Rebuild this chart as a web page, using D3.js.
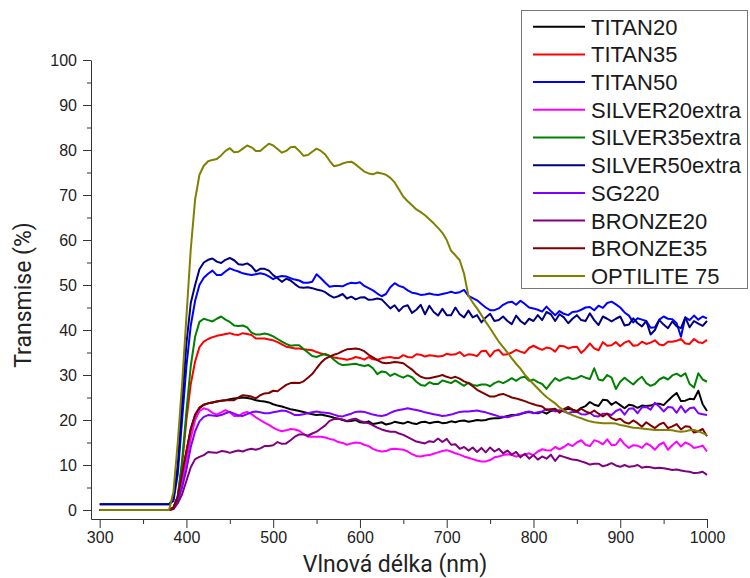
<!DOCTYPE html>
<html>
<head>
<meta charset="utf-8">
<script src="https://d3js.org/d3.v7.min.js"></script>
<style>
  body { margin: 0; background: #fff; }
</style>
</head>
<body>
<div id="chart"></div>
<script>
// wavelength grid (nm): flat start, then every 5 nm
var wavelengths = [300].concat(d3.range(380, 1001, 5));

// transmission (%), one value per wavelength
var titan20 = [0,
  0, 0.5, 3, 8, 13, 18, 21, 22.6, 23.4, 23.7,
  23.9, 24.1, 24.3, 24.4, 24.6, 24.8, 24.9, 25, 24.9, 24.7,
  24.4, 24.2, 24.1, 23.9, 23.5, 23.2, 23, 22.7, 22.4, 22.2,
  22, 21.8, 21.5, 21.3, 21.1, 21.2, 21, 20.8, 20.5, 20.3,
  20, 19.7, 19.8, 20, 19.5, 19.4, 19.7, 19.1, 19.3, 19.5,
  19, 19.2, 19.6, 19.4, 19.2, 19.6, 19.3, 19.1, 19.5, 19.6,
  19.3, 19.5, 19.6, 19.3, 19.4, 19.7, 19.5, 19.8, 19.9, 19.6,
  19.8, 20, 19.9, 20, 20.3, 20.4, 20.4, 20.6, 20.9, 21.1,
  21.1, 21.3, 21.6, 21.8, 21.6, 21.5, 21.8, 21.4, 22, 22.2,
  21.9, 22.2, 22.5, 22.3, 22, 22.7, 23.1, 24, 23.4, 23.1,
  24.5, 24.4, 23.4, 24, 23.3, 22.6, 23.4, 23.2, 22.7, 23.2,
  23.1, 23.2, 23.6, 23.6, 23.3, 24.3, 25.2, 26, 24.2, 24.3,
  24.7, 24.6, 26.5, 23.5, 22];

var titan35 = [0,
  0, 0.5, 3, 10, 20, 28, 33, 36.2, 37.4, 38,
  38.4, 38.7, 38.9, 39.1, 39.3, 39, 38.9, 39.3, 39.1, 38.9,
  38.1, 38.1, 38.1, 37.9, 37.7, 37.3, 36.8, 36.3, 36.1, 35.9,
  35.9, 35.7, 35.6, 35.5, 35.1, 34.8, 34.5, 34.2, 33.9, 33.7,
  33.6, 33.4, 33.6, 34, 33.8, 33.4, 34, 33.5, 33.4, 33.7,
  33.9, 34, 33.8, 33.8, 34.4, 34, 33.9, 34.6, 34.5, 34.1,
  34.4, 34.3, 34.1, 34.2, 34.7, 34.5, 34.6, 35.1, 34.2, 34.6,
  34.5, 34.2, 35.3, 35.4, 34.1, 35.3, 35.6, 34.5, 34.6, 35,
  35.6, 35.2, 34.9, 36, 36.5, 36, 35.6, 36.1, 35.9, 35.2,
  36.5, 36.4, 35.9, 36.2, 36.3, 34.9, 35.8, 37, 35.9, 35.5,
  37.3, 36.5, 36.6, 37.3, 36.4, 37.2, 37.6, 36.5, 36.6, 37.4,
  36.9, 37.2, 37.7, 36.8, 36.6, 37.4, 37.4, 37.6, 38, 37,
  36.9, 38, 37.3, 37.1, 37.8];

var titan50 = [1.3,
  1.3, 2, 8, 20, 32, 41, 46.5, 50, 51.6, 52.5,
  53.2, 52.2, 52.2, 53, 53.7, 53.3, 53, 52.6, 52.4, 52.2,
  52.4, 52.6, 52.4, 51.9, 51.3, 51.8, 52, 51.9, 51.5, 51.2,
  51, 50.5, 50.5, 50.7, 52.4, 51.5, 50.5, 49.6, 49.8, 49.8,
  49.7, 50.2, 50.5, 50.4, 50.6, 49.8, 49.3, 48.8, 48.1, 47.5,
  48, 49.5, 50.4, 49.8, 49.5, 48.8, 48.3, 48.1, 47.8, 47.9,
  48.1, 47.9, 47.8, 48, 48.2, 48.5, 48.2, 48.4, 48.9, 47.6,
  47.1, 46.6, 45.8, 45, 44.4, 44.4, 44.8, 45.6, 46.1, 46.3,
  45.6, 46.5, 45.8, 45, 44.8, 44.5, 44.1, 45.2, 44.2, 43.3,
  44.2, 43.6, 43.3, 44, 44.1, 44.5, 45, 45.1, 44.4, 45.4,
  44.9, 46, 46.3, 45.7, 45, 43.9, 43.2, 41.7, 42.6, 42.3,
  42, 40.5, 40.6, 42.3, 43, 42.5, 42.4, 41.5, 38.5, 42.8,
  42.2, 43.2, 42.3, 43, 42.6];

var silver20extra = [0,
  0, 0.3, 2, 6, 11, 16, 20, 22, 22.6, 22.3,
  21.6, 21.2, 21.7, 22.2, 21.7, 20.9, 20.9, 21.5, 21.8, 21.3,
  20.6, 20, 19.4, 18.9, 18.3, 17.8, 17.5, 17.7, 18, 17.9,
  17.6, 16.9, 16.3, 16.3, 16.3, 16.3, 16.1, 15.8, 15.6, 15.1,
  14.9, 14.5, 14.8, 15, 14.9, 14.5, 14.2, 13.6, 13.2, 13,
  13.1, 13.5, 13.6, 13.5, 13.4, 13, 12.4, 12, 11.9, 12.1,
  12.2, 12.5, 12.8, 13.1, 13.3, 13, 12.6, 12.3, 11.9, 11.6,
  11.3, 11, 10.8, 10.8, 11.1, 11.7, 11.9, 12.2, 12.4, 12.2,
  11.9, 12.1, 12.3, 12.6, 12.2, 13, 13.5, 13.3, 13.2, 14,
  13.5, 14, 14.7, 14.2, 15, 15.5, 14.5, 14.2, 15.5, 15.2,
  14.6, 15.7, 14.4, 14.5, 15.8, 14.6, 13.8, 14.4, 14.3, 13.8,
  14.8, 14.3, 13.4, 14.5, 15, 13.4, 14.4, 15.2, 14.1, 15,
  14.6, 13.8, 14, 14.3, 13];

var silver35extra = [0,
  0, 0.5, 3, 11, 22, 32, 38.5, 41.8, 42.5, 42.2,
  41.9, 42.5, 43, 42.3, 41.8, 41, 40.9, 41, 40.6, 39.4,
  39, 39, 39.2, 39, 38.6, 38, 37.4, 36.9, 36.5, 36.6,
  36.6, 35.8, 35, 34.2, 34, 34.4, 34.7, 34.3, 33.4, 32.6,
  32.2, 32.3, 32.4, 32.5, 32.2, 32, 32.2, 31.5, 30.2, 30.8,
  30.6, 29.8, 30.3, 29.8, 29.4, 29.9, 29.5, 28.5, 27.8, 27.6,
  28.4, 28, 28, 28.8, 28.5, 28.2, 28.8, 28.2, 27.6, 28.3,
  27.8, 27.6, 27.9, 27.9, 27.5, 28.2, 28.6, 28.2, 28.7, 29.3,
  28.7, 29.4, 29.6, 28.7, 29, 28.4, 28, 26.9, 28.2, 29.3,
  28.7, 29.2, 29.5, 29.1, 29.3, 29.8, 29.4, 29.1, 31.5, 29,
  28.8, 30, 29.4, 26.9, 28.5, 29.4, 28.6, 27.9, 28.9, 29.6,
  28.2, 27.6, 28, 29, 29.5, 29, 29.9, 30.3, 29.7, 30.4,
  28, 27.2, 30.4, 29, 28.5];

var silver50extra = [1.3,
  1.3, 2.5, 10, 24, 37, 46, 50, 53.5, 55, 55.6,
  55.9, 55.2, 54.9, 55.6, 56, 55.5, 54.6, 54.5, 54.8, 54.2,
  53, 53.6, 53.6, 53.2, 52.2, 51.5, 50.7, 51.4, 51, 50.2,
  49.5, 49.4, 49.5, 49.3, 49, 48.8, 48.4, 47.7, 47.2, 47.5,
  48, 47, 47.4, 46.8, 47.2, 47.3, 46.7, 46.8, 47, 46.8,
  45.8, 44.8, 45.5, 44.2, 45.2, 45.5, 43.8, 44.5, 45.6, 43.5,
  45.4, 44, 43.2, 44.7, 43.3, 43.3, 45, 43.5, 42.8, 44.3,
  42.8, 43.3, 41.7, 42.8, 43.6, 42, 42.2, 43, 42, 41.3,
  43.2, 42, 41.3, 42.5, 42, 43.3, 42.2, 44, 43.5, 42,
  43.5, 42.8, 41.5, 42.5, 43.3, 42.2, 42, 43.7, 42.2, 41.1,
  43, 42.5, 41.9, 42.5, 43, 41, 41.2, 42.6, 41.5, 40.8,
  42, 39, 40, 42.2, 41.2, 40.4, 41.9, 40.8, 40.4, 42.8,
  40.6, 42, 41.4, 40.9, 42];

var sg220 = [0,
  0, 0.3, 2, 5, 9, 14, 17.5, 19.7, 20.7, 21.1,
  21, 20.9, 21.1, 21.5, 21.8, 21.4, 21, 20.9, 21.3, 21.7,
  21.9, 21.7, 21.5, 21.5, 21.7, 21.9, 22.1, 22, 21.6, 21.1,
  21.1, 21.3, 21.5, 21.7, 21.9, 21.7, 21.6, 21.5, 21.2, 20.9,
  20.8, 21.1, 21.4, 21.8, 21.9, 21.8, 21.5, 21.2, 21, 20.9,
  21.1, 21.6, 22, 22.2, 22.4, 22.6, 22.4, 22.2, 22, 21.7,
  21.5, 21.3, 21.1, 20.9, 21, 21.2, 21.5, 21.8, 21.9, 21.9,
  22, 22.1, 21.9, 21.7, 21.4, 21.1, 20.8, 20.7, 20.6, 20.9,
  21.1, 21.4, 21.7, 21.9, 21.5, 21.7, 21.9, 22.4, 22.3, 21.9,
  22.2, 21.9, 21.5, 21.8, 21.8, 21.3, 21.2, 21.6, 20.9, 20.8,
  21.4, 21.4, 21.1, 22, 22.4, 21.2, 22.5, 22.6, 21.5, 22.8,
  22.9, 22.3, 23.8, 23, 21.9, 22.9, 22.8, 21.6, 23.1, 21.7,
  22.6, 22.8, 21.5, 21.3, 21.1];

var bronze20 = [0,
  0, 0.2, 1.5, 3.5, 6.5, 9.5, 11.3, 11.8, 12.2, 12.9,
  12.8, 12.7, 13.1, 13, 12.7, 13, 13.2, 13, 13.4, 13.6,
  13.4, 13.7, 14.2, 14.2, 14.4, 15.1, 14.7, 14.8, 15.5, 16.3,
  16.8, 16.8, 16.5, 17, 17.4, 18.1, 18.8, 19.8, 20.2, 20.3,
  20.1, 19.8, 20.1, 20.3, 19.8, 19.5, 19.3, 18.8, 18.3, 17.9,
  17.6, 17.4, 17.4, 17, 16.7, 16.2, 15.7, 15.2, 15, 14.8,
  15.3, 15.1, 15.9, 15.1, 15.8, 14.5, 14.6, 13.6, 14, 13.2,
  13.9, 12.9, 13.8, 12.8, 13.9, 13, 13.6, 12.6, 13.2, 12.3,
  12.9, 11.7, 12.5, 11.4, 12.2, 11.2, 11.9, 11.4, 12.3, 10.9,
  12.1, 11.8, 11.5, 11.2, 11.1, 10.8, 10.5, 10.1, 10.3, 10.3,
  9.7, 10, 10.4, 9.9, 9.6, 10, 9.6, 9.7, 10, 9.4,
  9.6, 9.5, 9.3, 9.4, 9.3, 9.1, 8.9, 9, 8.8, 8.6,
  8.5, 8.2, 8.3, 8.5, 7.8];

var bronze35 = [0,
  0, 0.5, 3, 8, 13, 18, 21.2, 22.8, 23.4, 23.7,
  23.9, 24.1, 24.3, 24.4, 24.4, 24.4, 25, 25.5, 25.4, 25.2,
  24.8, 25.5, 25.9, 26, 26.5, 26.4, 27.1, 27.8, 28.2, 28.3,
  28.2, 28.6, 29.4, 30.2, 31.5, 32.7, 33.6, 34.1, 34.5, 34.8,
  35.3, 35.7, 35.8, 35.9, 35.7, 35.3, 34.5, 33.9, 33.3, 32.8,
  32.6, 32.7, 32.9, 32.8, 32.6, 31.9, 31.2, 30.3, 29.6, 29.3,
  29.3, 29.5, 29.7, 30, 29.6, 29.3, 29.6, 29.2, 28.6, 28.2,
  27.5, 26.7, 26.2, 25.7, 25.2, 25.2, 25.6, 25.8, 25.4, 25,
  24.8, 24.5, 24.2, 23.8, 23.5, 23.2, 23, 22.2, 22.4, 22.5,
  21.6, 22.4, 22.9, 22.3, 21.8, 22.5, 21.9, 21.5, 22.1, 21.4,
  20.8, 21.4, 20.4, 20, 20.3, 19.5, 19.2, 19.9, 19.3, 18.5,
  19.5, 18.8, 18.2, 19, 19.4, 18.2, 18.6, 19.1, 17.9, 18.6,
  18.5, 17.2, 17.5, 18, 16.4];

var optilite75 = [0,
  0, 4, 15, 28, 43, 58, 69, 74.5, 76.5, 77.5,
  77.8, 78, 78.8, 79.8, 80.4, 79.5, 79.6, 80.3, 81, 80.6,
  79.8, 79.8, 80.6, 81.4, 81, 80.2, 79.4, 79.8, 80.6, 80.7,
  79.8, 78.7, 78.9, 79.6, 80.3, 79.8, 79, 77.6, 76.4, 76.6,
  77, 77.3, 77.4, 76.8, 76, 75.2, 74.8, 74.6, 75, 74.8,
  74.5, 73.8, 72.8, 71.2, 69.6, 68.6, 67.7, 66.8, 66.2, 65.5,
  64.6, 63.7, 62.7, 61.6, 60, 57.6, 56.6, 55.5, 52.5, 47.6,
  46.1, 44.8, 43.3, 41.8, 40.4, 38.9, 37.4, 36.2, 35, 33.7,
  32.5, 31.4, 30.1, 29, 28, 27, 26, 25.1, 24.4, 23.7,
  22.8, 22.1, 21.5, 21.1, 20.7, 20.4, 20, 19.7, 19.5, 19.4,
  19.3, 19.3, 19.3, 19.2, 18.9, 18.7, 18.5, 18.3, 18.2, 18.1,
  18, 17.9, 17.8, 17.8, 17.8, 17.8, 17.7, 17.5, 17.4, 17.5,
  17.7, 17.8, 17.5, 17.1, 16.7];

var seriesNames = ["TITAN20", "TITAN35", "TITAN50", "SILVER20extra", "SILVER35extra",
  "SILVER50extra", "SG220", "BRONZE20", "BRONZE35", "OPTILITE 75"];
var seriesValues = [titan20, titan35, titan50, silver20extra, silver35extra,
  silver50extra, sg220, bronze20, bronze35, optilite75];
var seriesColors = ["#000000", "#ff0000", "#0000ff", "#ff00ff", "#008000",
  "#000080", "#8000ff", "#800080", "#800000", "#808000"];

var xTicks = [300, 400, 500, 600, 700, 800, 900, 1000];
var xMinorTicks = [350, 450, 550, 650, 750, 850, 950];
var yTicks = [0, 10, 20, 30, 40, 50, 60, 70, 80, 90, 100];
var yMinorTicks = [5, 15, 25, 35, 45, 55, 65, 75, 85, 95];

var svg = d3.select("#chart").append("svg").attr("width", 750).attr("height", 578)
  .style("font-family", "'Liberation Sans', Arial, sans-serif");

var x = d3.scaleLinear().domain([290, 1000]).range([91, 707]);
var y = d3.scaleLinear().domain([-2, 100]).range([519, 60]);

// curves
var line = d3.line()
  .x(function(d, i) { return x(wavelengths[i]); })
  .y(function(d) { return y(d); });

svg.append("g").selectAll("path").data(seriesValues).enter().append("path")
  .attr("d", line)
  .attr("fill", "none")
  .attr("stroke", function(d, i) { return seriesColors[i]; })
  .attr("stroke-width", 2)
  .attr("stroke-linejoin", "round");

// x axis
svg.append("g").attr("transform", "translate(0,519)")
  .call(d3.axisBottom(x).tickValues(xTicks).tickFormat(d3.format("d"))
    .tickSize(9).tickSizeOuter(0).tickPadding(4));
svg.append("g").attr("transform", "translate(0,519)")
  .call(d3.axisBottom(x).tickValues(xMinorTicks).tickSize(5).tickFormat(""))
  .select(".domain").remove();

// y axis
svg.append("g").attr("transform", "translate(91,0)")
  .call(d3.axisLeft(y).tickValues(yTicks).tickFormat(d3.format("d"))
    .tickSize(8).tickSizeOuter(0).tickPadding(6));
svg.append("g").attr("transform", "translate(91,0)")
  .call(d3.axisLeft(y).tickValues(yMinorTicks).tickSize(4).tickFormat(""))
  .select(".domain").remove();

svg.selectAll(".domain, .tick line").attr("stroke", "#333");
svg.selectAll(".tick text").attr("fill", "#222").style("font-size", "16px")
  .style("font-family", "'Liberation Sans', Arial, sans-serif");

// axis titles
svg.append("text").attr("x", 395).attr("y", 572).attr("text-anchor", "middle")
  .style("font-family", "Roboto, sans-serif").style("font-size", "23px").attr("fill", "#222")
  .text("Vlnová délka (nm)");
svg.append("text").attr("transform", "translate(31,295) rotate(-90)").attr("text-anchor", "middle")
  .style("font-family", "Roboto, sans-serif").style("font-size", "23px").attr("fill", "#222")
  .text("Transmise (%)");

// legend
var legend = svg.append("g");
legend.append("rect").attr("x", 521.5).attr("y", 10.5).attr("width", 226).attr("height", 278)
  .attr("fill", "#fff").attr("stroke", "#777").attr("stroke-width", 1);

var rows = legend.selectAll(".row").data(seriesNames).enter().append("g")
  .attr("class", "row")
  .attr("transform", function(d, i) { return "translate(0," + (26.7 + i * 27.7) + ")"; });
rows.append("line").attr("x1", 533).attr("x2", 585)
  .attr("stroke", function(d, i) { return seriesColors[i]; }).attr("stroke-width", 2);
rows.append("text").attr("x", 591).attr("dy", "0.36em")
  .style("font-size", "22px").attr("fill", "#1a1a1a")
  .text(function(d) { return d; });
</script>
</body>
</html>
